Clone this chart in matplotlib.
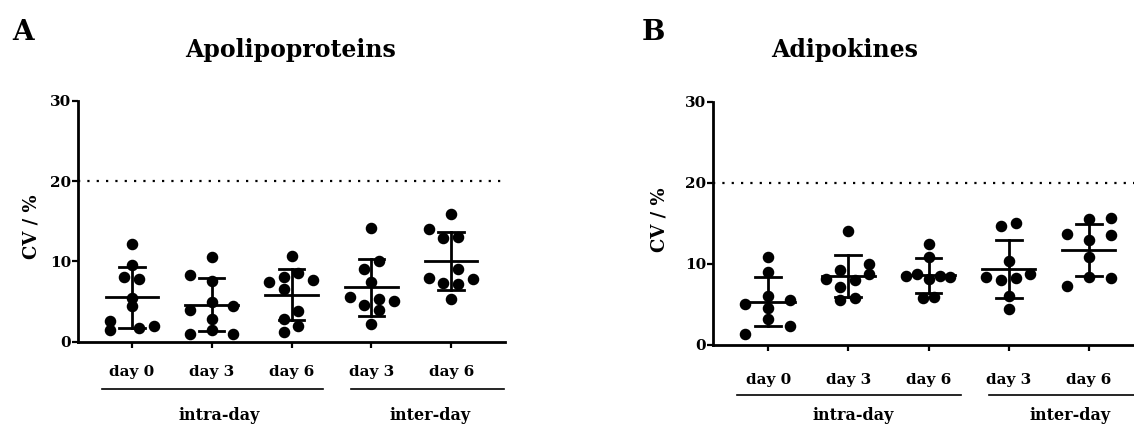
"""
CV (%) de apolipoproteínas y adipoquinas: intra-day / inter-day
"""

import numpy as np
import matplotlib
matplotlib.use('Agg')
import matplotlib.pyplot as plt

plt.rcParams['font.family'] = ['DejaVu Serif']
plt.rcParams['font.weight'] = 'bold'

# etiquetas
tick_labels = ['day 0', 'day 3', 'day 6', 'day 3', 'day 6']
groups = ['intra-day', 'inter-day']

# valores CV (%) - Apolipoproteins
apo_d0 = [12.2, 9.5, 8.1, 7.8, 5.5, 4.4, 2.6, 1.4, 1.7, 1.9]
apo_d3 = [10.6, 8.3, 7.6, 4.9, 3.9, 4.5, 2.8, 1.0, 1.45, 1.0]
apo_d6 = [10.7, 8.0, 8.5, 7.4, 7.7, 6.6, 3.8, 2.8, 2.0, 1.2]
apo_inter_d3 = [14.2, 10.1, 9.1, 7.4, 5.6, 4.6, 5.3, 5.1, 4.0, 2.2]
apo_inter_d6 = [15.9, 14.0, 12.9, 13.0, 9.1, 7.9, 7.3, 7.2, 7.8, 5.3]

# Adipokines
adi_d0 = [10.8, 9.0, 5.1, 6.0, 5.5, 4.6, 3.2, 2.3, 1.4]
adi_d3 = [14.1, 10.0, 9.2, 8.7, 8.1, 8.0, 7.1, 5.5, 5.8]
adi_d6 = [12.45, 10.9, 8.5, 8.8, 8.1, 8.5, 8.4, 5.75, 5.9]
adi_inter_d3 = [14.7, 15.1, 10.4, 8.4, 8.0, 8.3, 8.75, 6.0, 4.5]
adi_inter_d6 = [15.5, 15.6, 13.65, 13.6, 12.9, 10.8, 8.2, 8.35, 7.3]

# desplazamiento horizontal de los puntos (tipo scatter de Prism), en px de zoom
apo_jit = [
    [0, 0, -23, 22, 0, 0, -65, -65, 22, 66],
    [0, -65, 0, 0, -65, 65, 0, -65, 0, 65],
    [0, -23, 21, -67, 65, -23, 21, -23, 21, -23],
    [0, 22, -23, 0, -65, -23, 22, 67, 22, 0],
    [0, -66, -23, 22, 22, -66, -23, 22, 65, 0],
]
adi_jit = [
    [0, 0, -68, 0, 65, 0, 0, 65, -68],
    [0, 63, -25, 63, -67, 20, -25, -25, 20],
    [0, 0, -67, -33, 0, 33, 65, -17, 17],
    [-22, 21, 0, -67, -22, 21, 65, 0, 0],
    [0, 66, -65, 66, 0, 0, 66, 0, -65],
]

apo = [apo_d0, apo_d3, apo_d6, apo_inter_d3, apo_inter_d6]
adi = [adi_d0, adi_d3, adi_d6, adi_inter_d3, adi_inter_d6]

W, H = 1134, 425
fig = plt.figure(figsize=(W / 100, H / 100), dpi=100)


def panel(rect, data, jit, title, letter, letter_xy, title_xy, ylab_x,
          xlim, line_y, lab_y, underline, grp_x, grp_dy):
    ax = fig.add_axes(rect)
    for i, (vals, jj) in enumerate(zip(data, jit)):
        vals = np.array(vals)
        x = i + np.array(jj) / 240.0
        ax.plot(x, vals, 'o', color='black', markersize=7.3, clip_on=False, zorder=3)
        m = vals.mean()
        sd = vals.std(ddof=1)
        ax.plot([i - 0.33, i + 0.33], [m, m], color='black', lw=2, zorder=4)
        ax.plot([i, i], [m - sd, m + sd], color='black', lw=2, zorder=4)
        for yy in (m - sd, m + sd):
            ax.plot([i - 0.16, i + 0.16], [yy, yy], color='black', lw=2, zorder=4)

    ax.axhline(20, color='black', lw=1.6, linestyle=(0, (1, 3.2)))
    ax.set_xlim(*xlim)
    ax.set_ylim(0, 30)
    ax.set_yticks([0, 10, 20, 30])
    ax.set_xticks(range(5))
    ax.set_xticklabels(tick_labels, fontsize=11, fontweight='bold')
    ax.tick_params(axis='y', length=4, width=1.6, labelsize=11, pad=1)
    ax.tick_params(axis='x', length=4, width=1.6, pad=lab_y)
    for lab in ax.get_yticklabels():
        lab.set_fontweight('bold')
    for s in ['top', 'right']:
        ax.spines[s].set_visible(False)
    for s in ['left', 'bottom']:
        ax.spines[s].set_linewidth(2)

    # líneas y etiquetas de grupo
    tr = ax.get_xaxis_transform()
    for (x0, x1) in underline:
        ax.plot([x0, x1], [line_y, line_y], color='black', lw=1.2,
                transform=tr, clip_on=False)
    for g, gx in zip(groups, grp_x):
        ax.text(gx, line_y - grp_dy, g, transform=tr, ha='center', va='center',
                fontsize=11.5, fontweight='bold')

    fig.text(ylab_x[0], ylab_x[1], 'CV / %', rotation=90, ha='center', va='center',
             fontsize=13, fontweight='bold')
    fig.text(title_xy[0], title_xy[1], title, ha='center', va='center',
             fontsize=17, fontweight='bold')
    fig.text(letter_xy[0], letter_xy[1], letter, ha='center', va='center',
             fontsize=20, fontweight='bold')
    return ax


# Panel A
panel([78 / W, 1 - 341.7 / H, 427 / W, 241 / H], apo, apo_jit, 'Apolipoproteins', 'A',
      (23 / W, 1 - 33 / H), (291 / W, 1 - 50 / H), (31 / W, 1 - 227 / H),
      (-0.675, 4.675), -0.196, 13, [(-0.375, 2.39), (2.75, 4.66)], [1.09, 3.73], 0.11)

# Panel B
panel([713 / W, 1 - 345 / H, 430 / W, 243.3 / H], adi, adi_jit, 'Adipokines', 'B',
      (653 / W, 1 - 33 / H), (845 / W, 1 - 50 / H), (660 / W, 1 - 220 / H),
      (-0.6875, 4.675), -0.205, 16, [(-0.39, 2.4), (2.76, 4.8)], [1.06, 3.76], 0.085)

plt.savefig('out.png', dpi=100, facecolor='white')
plt.close()
